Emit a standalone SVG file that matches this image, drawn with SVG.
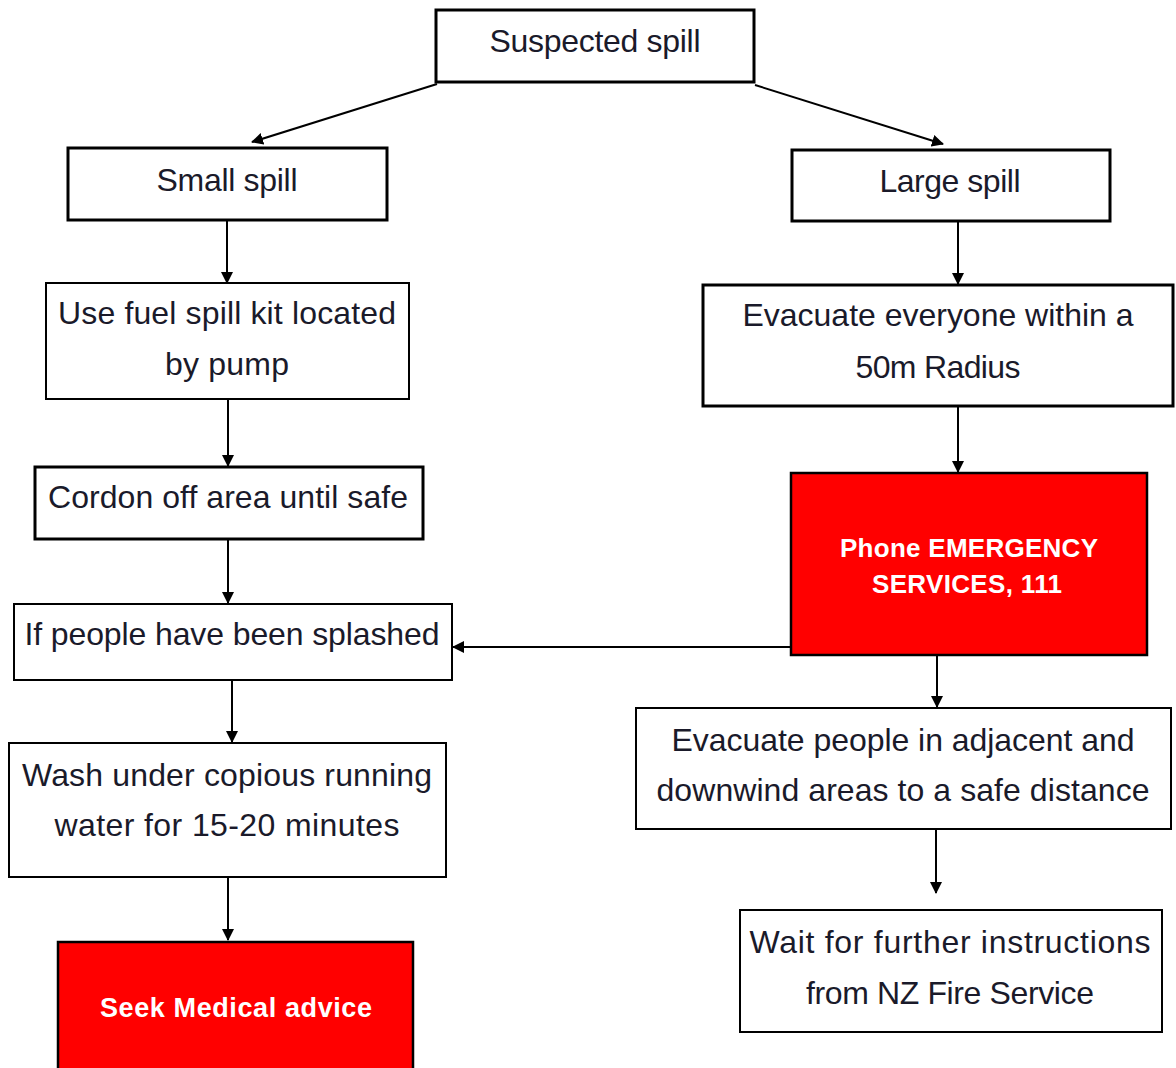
<svg xmlns="http://www.w3.org/2000/svg" width="1176" height="1068" viewBox="0 0 1176 1068">
  <style>
    .box { fill: #ffffff; stroke: #000000; stroke-width: 2; }
    .thick { stroke-width: 3; }
    .red { fill: #ff0000; stroke: #000000; stroke-width: 2.5; }
    .t { font-family: "Liberation Sans", Arial, sans-serif; font-size: 32px; fill: #1a1a2a; text-anchor: middle; }
    .w { font-family: "Liberation Sans", Arial, sans-serif; font-weight: bold; fill: #ffffff; text-anchor: middle; }
    .c { stroke: #000000; stroke-width: 2; fill: none; marker-end: url(#ah); }
  </style>
  <defs>
    <marker id="ah" markerUnits="userSpaceOnUse" markerWidth="12" markerHeight="12" refX="11" refY="6" orient="auto">
      <path d="M0,0 L12,6 L0,12 z" fill="#000000"/>
    </marker>
  </defs>
  <rect width="1176" height="1068" fill="#ffffff"/>

  <g id="connectors">
    <line class="c" x1="437" y1="84" x2="252" y2="142"/>
    <line class="c" x1="755" y1="85" x2="943" y2="144"/>
    <line class="c" x1="227" y1="220" x2="227" y2="283"/>
    <line class="c" x1="228" y1="399" x2="228" y2="466"/>
    <line class="c" x1="228" y1="539" x2="228" y2="603"/>
    <line class="c" x1="232" y1="680" x2="232" y2="742"/>
    <line class="c" x1="228" y1="877" x2="228" y2="940"/>
    <line class="c" x1="958" y1="221" x2="958" y2="284"/>
    <line class="c" x1="958" y1="406" x2="958" y2="472"/>
    <line class="c" x1="937" y1="655" x2="937" y2="707"/>
    <line class="c" x1="936" y1="829" x2="936" y2="893"/>
    <line class="c" x1="791" y1="647" x2="453" y2="647"/>
  </g>

  <g id="suspected">
    <rect class="box thick" x="436" y="10" width="318" height="72"/>
    <text class="t" x="595" y="52" textLength="211" lengthAdjust="spacing">Suspected spill</text>
  </g>
  <g id="small">
    <rect class="box thick" x="68" y="148" width="319" height="72"/>
    <text class="t" x="227" y="191" textLength="141" lengthAdjust="spacing">Small spill</text>
  </g>
  <g id="large">
    <rect class="box thick" x="792" y="150" width="318" height="71"/>
    <text class="t" x="950" y="192" textLength="141" lengthAdjust="spacing">Large spill</text>
  </g>
  <g id="fuelkit">
    <rect class="box" x="46" y="283" width="363" height="116"/>
    <text class="t" x="227" y="324" textLength="338" lengthAdjust="spacing">Use fuel spill kit located</text>
    <text class="t" x="227" y="375" textLength="124" lengthAdjust="spacing">by pump</text>
  </g>
  <g id="evac50">
    <rect class="box thick" x="703" y="285" width="470" height="121"/>
    <text class="t" x="938" y="326" textLength="391" lengthAdjust="spacing">Evacuate everyone within a</text>
    <text class="t" x="938" y="378" textLength="165" lengthAdjust="spacing">50m Radius</text>
  </g>
  <g id="cordon">
    <rect class="box thick" x="35" y="467" width="388" height="72"/>
    <text class="t" x="228" y="508" textLength="360" lengthAdjust="spacing">Cordon off area until safe</text>
  </g>
  <g id="phone">
    <rect class="red" x="791" y="473" width="356" height="182"/>
    <text class="w" x="969" y="557" font-size="26" textLength="258" lengthAdjust="spacing">Phone EMERGENCY</text>
    <text class="w" x="967" y="593" font-size="26" textLength="190" lengthAdjust="spacing">SERVICES, 111</text>
  </g>
  <g id="splashed">
    <rect class="box" x="14" y="604" width="438" height="76"/>
    <text class="t" x="232" y="645" textLength="415" lengthAdjust="spacing">If people have been splashed</text>
  </g>
  <g id="evacadj">
    <rect class="box" x="636" y="708" width="535" height="121"/>
    <text class="t" x="903" y="751" textLength="463" lengthAdjust="spacing">Evacuate people in adjacent and</text>
    <text class="t" x="903" y="801" textLength="493" lengthAdjust="spacing">downwind areas to a safe distance</text>
  </g>
  <g id="wash">
    <rect class="box" x="9" y="743" width="437" height="134"/>
    <text class="t" x="227" y="786" textLength="410" lengthAdjust="spacing">Wash under copious running</text>
    <text class="t" x="227" y="836" textLength="345" lengthAdjust="spacing">water for 15-20 minutes</text>
  </g>
  <g id="wait">
    <rect class="box" x="740" y="910" width="422" height="122"/>
    <text class="t" x="950" y="953" textLength="401" lengthAdjust="spacing">Wait for further instructions</text>
    <text class="t" x="950" y="1004" textLength="288" lengthAdjust="spacing">from NZ Fire Service</text>
  </g>
  <g id="medical">
    <rect class="red" x="58" y="942" width="355" height="140"/>
    <text class="w" x="236" y="1017" font-size="27" textLength="272" lengthAdjust="spacing">Seek Medical advice</text>
  </g>
</svg>
